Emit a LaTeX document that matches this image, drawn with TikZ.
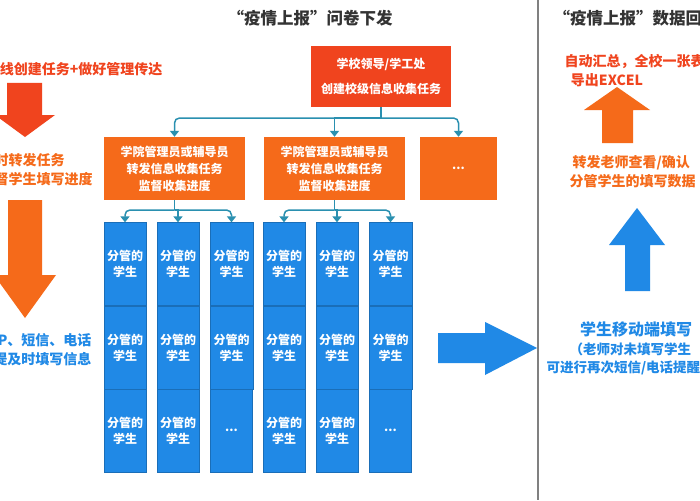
\documentclass[tikz,border=0pt]{standalone}
\usepackage{fontspec}
\setmainfont{Noto Sans CJK SC}
\usetikzlibrary{arrows.meta}
\definecolor{cred}{HTML}{F0441E}
\definecolor{corg}{HTML}{F56A1A}
\definecolor{cblue}{HTML}{2089E6}
\definecolor{cteal}{HTML}{2A90B0}
\definecolor{ctitle}{HTML}{333333}
\newcommand\mydots{...}
\newcommand\stu{分管的\\学生}
\tikzset{
  titletxt/.style={font=\bfseries\fontsize{16.5}{19}\selectfont,text=ctitle},
  boxtxt/.style={font=\bfseries\fontsize{12}{17}\selectfont,text=white,align=center},
  redbox/.style={fill=cred,draw=none,minimum width=140pt,minimum height=61pt,boxtxt},
  orgbox/.style={fill=corg,draw=none,minimum height=63pt,boxtxt},
  cell/.style={fill=cblue,draw=cblue!80!black,line width=0.3pt,minimum width=42pt,minimum height=83pt,font=\bfseries\fontsize{12}{16}\selectfont,text=white,align=center},
  conn/.style={draw=cteal,line width=1.5pt,-{Triangle[length=6pt,width=9pt]}},
  bigtxt/.style={font=\bfseries\fontsize{14}{19}\selectfont},
}
\begin{document}
\begin{tikzpicture}[x=1pt,y=-1pt]
\useasboundingbox (0,0) rectangle (700,500);
\clip (0,0) rectangle (700,500);
\fill[white] (0,0) rectangle (700,500);
\node[titletxt] (t1) at (310,18) {“疫情上报”问卷下发};
\node[titletxt,anchor=west] (t2) at (550,18) {“疫情上报”数据回流};
\draw[gray,line width=1.2pt] (538,0) -- (538,500);
% top box
\node[redbox] (top) at (381,76.5) {学校领导/学工处\\[8pt]创建校级信息收集任务};
\node[orgbox,minimum width=141pt] (c1) at (174.5,168.5) {学院管理员或辅导员\\转发信息收集任务\\监督收集进度};
\node[orgbox,minimum width=141pt] (c2) at (334.5,168.5) {学院管理员或辅导员\\转发信息收集任务\\监督收集进度};
\node[orgbox,minimum width=77pt] (c3) at (458.5,168.5) {\mydots};
\coordinate (j0) at (381,118);
\draw[cteal,line width=1.5pt] (top.south) -- (j0);
\draw[conn,rounded corners=5pt] (j0) -| (c1.north);
\draw[conn] (j0) -| (c2.north);
\draw[conn,rounded corners=5pt] (j0) -| (c3.north);
% columns
\foreach \n/\x in {1/125,2/178,3/231.5,4/284,5/337,6/390.5}{
  \node[cell] (r\n a) at (\x,264) {\stu};
  \node[cell] (r\n b) at (\x,347.5) {\stu};
}
\foreach \n/\x/\t in {1/125/\stu,2/178/\stu,3/231.5/\mydots,4/284/\stu,5/337/\stu,6/390.5/\mydots}{
  \node[cell] (r\n c) at (\x,430.5) {\t};
}
\coordinate (j1) at (174.5,210);
\coordinate (j2) at (334.5,210);
\draw[cteal,line width=1.5pt] (c1.south) -- (j1);
\draw[cteal,line width=1.5pt] (c2.south) -- (j2);
\draw[conn,rounded corners=5pt] (j1) -| (r1a.north);
\draw[conn] (j1) -| (r2a.north);
\draw[conn,rounded corners=5pt] (j1) -| (r3a.north);
\draw[conn,rounded corners=5pt] (j2) -| (r4a.north);
\draw[conn] (j2) -| (r5a.north);
\draw[conn,rounded corners=5pt] (j2) -| (r6a.north);
% left side
\node[bigtxt,text=cred,anchor=east] (l1) at (166,69) {线创建任务+做好管理传达};
\fill[cred] (7,83) -- (42,83) -- (42,115) -- (55,115) -- (25,137) -- (-5,115) -- (7,115) -- cycle;
\node[bigtxt,text=corg,anchor=west,align=left] (l2) at (-9,170) {时转发任务\\督学生填写进度};
\fill[corg] (8,200) -- (42,200) -- (42,275) -- (56,275) -- (25,318) -- (-6,275) -- (8,275) -- cycle;
\node[bigtxt,text=cblue,anchor=east,align=right] (l3) at (95,350) {P、短信、电话\\提及时填写信息};
% middle arrow
\fill[cblue] (438,333) -- (485,333) -- (485,322) -- (537,348) -- (485,375) -- (485,363) -- (438,363) -- cycle;
% right side
\node[bigtxt,text=cred,anchor=west] (rr1) at (561,62) {自动汇总，全校一张表};
\node[bigtxt,text=cred] (rr2) at (607,80) {导出EXCEL};
\fill[corg] (602,143) -- (633,143) -- (633,110) -- (650,110) -- (617,87) -- (584,110) -- (602,110) -- cycle;
\node[bigtxt,text=corg,anchor=west,align=left] (rr3) at (566,172) {\hspace{3pt}转发老师查看/确认\\分管学生的填写数据};
\fill[cblue] (625,291) -- (650,291) -- (650,245) -- (665,245) -- (637,208) -- (609,245) -- (625,245) -- cycle;
\node[font=\bfseries\fontsize{16}{19}\selectfont,text=cblue] (rr4) at (636,329) {学生移动端填写};
\node[font=\bfseries\fontsize{13.5}{18}\selectfont,text=cblue,anchor=west] (rr5) at (566,349) {（老师对未填写学生};
\node[font=\bfseries\fontsize{13.5}{18}\selectfont,text=cblue,anchor=west] (rr6) at (543,368) {可进行再次短信/电话提醒};
\end{tikzpicture}
\end{document}
